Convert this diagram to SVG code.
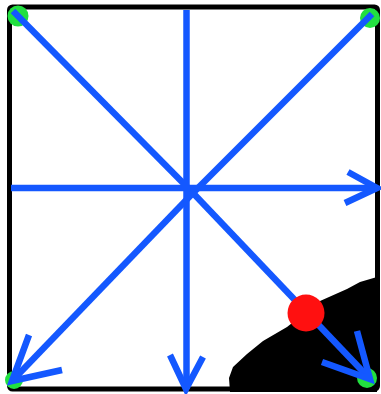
<svg xmlns="http://www.w3.org/2000/svg" width="381" height="394" viewBox="0 0 381 394">
<style>
.ln{stroke:#1458ff;stroke-width:6.5;fill:none;stroke-linecap:butt;stroke-linejoin:miter}
.dot{fill:#22e040}
</style>
<rect width="381" height="394" fill="#fff"/>
<g id="blob"><path d="M230,392 L229,378 L233,367 L247,354 L263,341 L287,327 L320,301 L347,289 L360,282 L377,277 L377,392 Z" fill="#000"/></g>
<g id="frame"><rect x="9.5" y="7" width="368" height="382" rx="3" fill="none" stroke="#000" stroke-width="5"/></g>
<g id="corners">
<circle class="dot" cx="18" cy="16" r="10.5"/>
<circle class="dot" cx="370" cy="18" r="10"/>
<circle class="dot" cx="14" cy="380" r="9"/>
<circle class="dot" cx="367" cy="378" r="10"/>
</g>
<g id="connectors">
<line class="ln" x1="13" y1="11" x2="193" y2="193"/>
<line class="ln" x1="372" y1="14" x2="193" y2="193"/>
<line class="ln" x1="186.5" y1="10" x2="186.5" y2="389"/>
<line class="ln" x1="11" y1="188" x2="377" y2="188"/>
<line class="ln" x1="193" y1="193" x2="12" y2="381"/>
<line class="ln" x1="193" y1="193" x2="370" y2="379"/>
<polyline class="ln" points="170,355 186,389 203,357"/>
<polyline class="ln" points="348,172 377,188 345,203"/>
<polyline class="ln" points="29,335 12,381 62,370"/>
<polyline class="ln" points="357,331 370,379 322,362"/>
</g>
<g id="marker"><circle cx="306" cy="313" r="18.5" fill="#ff1010"/></g>
</svg>
